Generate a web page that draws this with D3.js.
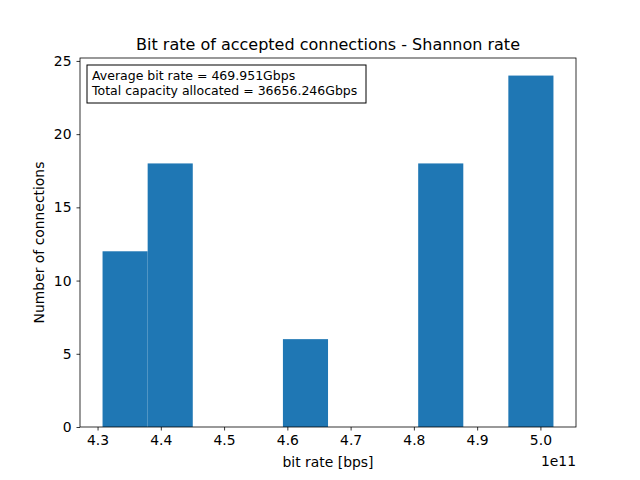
<!DOCTYPE html>
<html>
<script src="https://cdn.jsdelivr.net/npm/d3@7"></script>
<style>
  body { margin: 0; background: #fff; }
  text { font-family: "DejaVu Sans", sans-serif; fill: #000; }
</style>
<body>
<svg width="640" height="480"></svg>
<script>
  // histogram bins (edges in units of 1e11 bps) and counts
  var binEdges = [4.3079, 4.3792, 4.4505, 4.5217, 4.5930, 4.6643, 4.7355, 4.8068, 4.8781, 4.9493, 5.0206];
  var counts = [12, 18, 0, 0, 6, 0, 0, 18, 0, 24];
  var xTicks = [4.3, 4.4, 4.5, 4.6, 4.7, 4.8, 4.9, 5.0];
  var yTicks = [0, 5, 10, 15, 20, 25];
  var infoLines = ['Average bit rate = 469.951Gbps', 'Total capacity allocated = 36656.246Gbps'];

  var svg = d3.select('svg');
  var pLeft = 80, pRight = 576, pTop = 58, pBottom = 427;

  var span = binEdges[binEdges.length - 1] - binEdges[0];
  var x = d3.scaleLinear()
    .domain([binEdges[0] - span * 0.05, binEdges[binEdges.length - 1] + span * 0.05])
    .range([pLeft, pRight]);
  var y = d3.scaleLinear().domain([0, 25.2]).range([pBottom, pTop]);

  svg.append('g').selectAll('rect')
    .data(counts)
    .join('rect')
      .attr('x', function (d, i) { return x(binEdges[i]); })
      .attr('width', function (d, i) { return x(binEdges[i + 1]) - x(binEdges[i]); })
      .attr('y', function (d) { return y(d); })
      .attr('height', function (d) { return y(0) - y(d); })
      .attr('fill', '#1f77b4');

  var xAxis = svg.append('g')
    .attr('transform', 'translate(0,' + pBottom + ')')
    .call(d3.axisBottom(x).tickValues(xTicks).tickFormat(d3.format('.1f')).tickSize(3.5).tickPadding(5));
  var yAxis = svg.append('g')
    .attr('transform', 'translate(' + pLeft + ',0)')
    .call(d3.axisLeft(y).tickValues(yTicks).tickSize(3.5).tickPadding(5));
  [xAxis, yAxis].forEach(function (g) {
    g.select('.domain').remove();
    g.selectAll('text').style('font-size', '13.9px').style('font-family', 'DejaVu Sans');
    g.selectAll('line').attr('stroke', '#000').attr('stroke-width', 0.8);
  });

  svg.append('rect')
    .attr('x', pLeft).attr('y', pTop)
    .attr('width', pRight - pLeft).attr('height', pBottom - pTop)
    .attr('fill', 'none').attr('stroke', '#000').attr('stroke-width', 0.8);

  svg.append('text').attr('x', (pLeft + pRight) / 2).attr('y', 50)
    .attr('text-anchor', 'middle').style('font-size', '16px')
    .text('Bit rate of accepted connections - Shannon rate');
  svg.append('text').attr('x', (pLeft + pRight) / 2).attr('y', 467)
    .attr('text-anchor', 'middle').style('font-size', '13.9px')
    .text('bit rate [bps]');
  svg.append('text').attr('transform', 'translate(44,' + (pTop + pBottom) / 2 + ') rotate(-90)')
    .attr('text-anchor', 'middle').style('font-size', '13.9px')
    .text('Number of connections');
  svg.append('text').attr('x', pRight).attr('y', 466)
    .attr('text-anchor', 'end').style('font-size', '13.9px')
    .text('1e11');

  svg.append('rect').attr('x', 87).attr('y', 65).attr('width', 279).attr('height', 38)
    .attr('fill', '#fff').attr('stroke', '#000').attr('stroke-width', 1);
  svg.append('g').selectAll('text')
    .data(infoLines)
    .join('text')
      .attr('x', 92)
      .attr('y', function (d, i) { return 80 + i * 15; })
      .style('font-size', '12.5px')
      .text(function (d) { return d; });
</script>
</body>
</html>
